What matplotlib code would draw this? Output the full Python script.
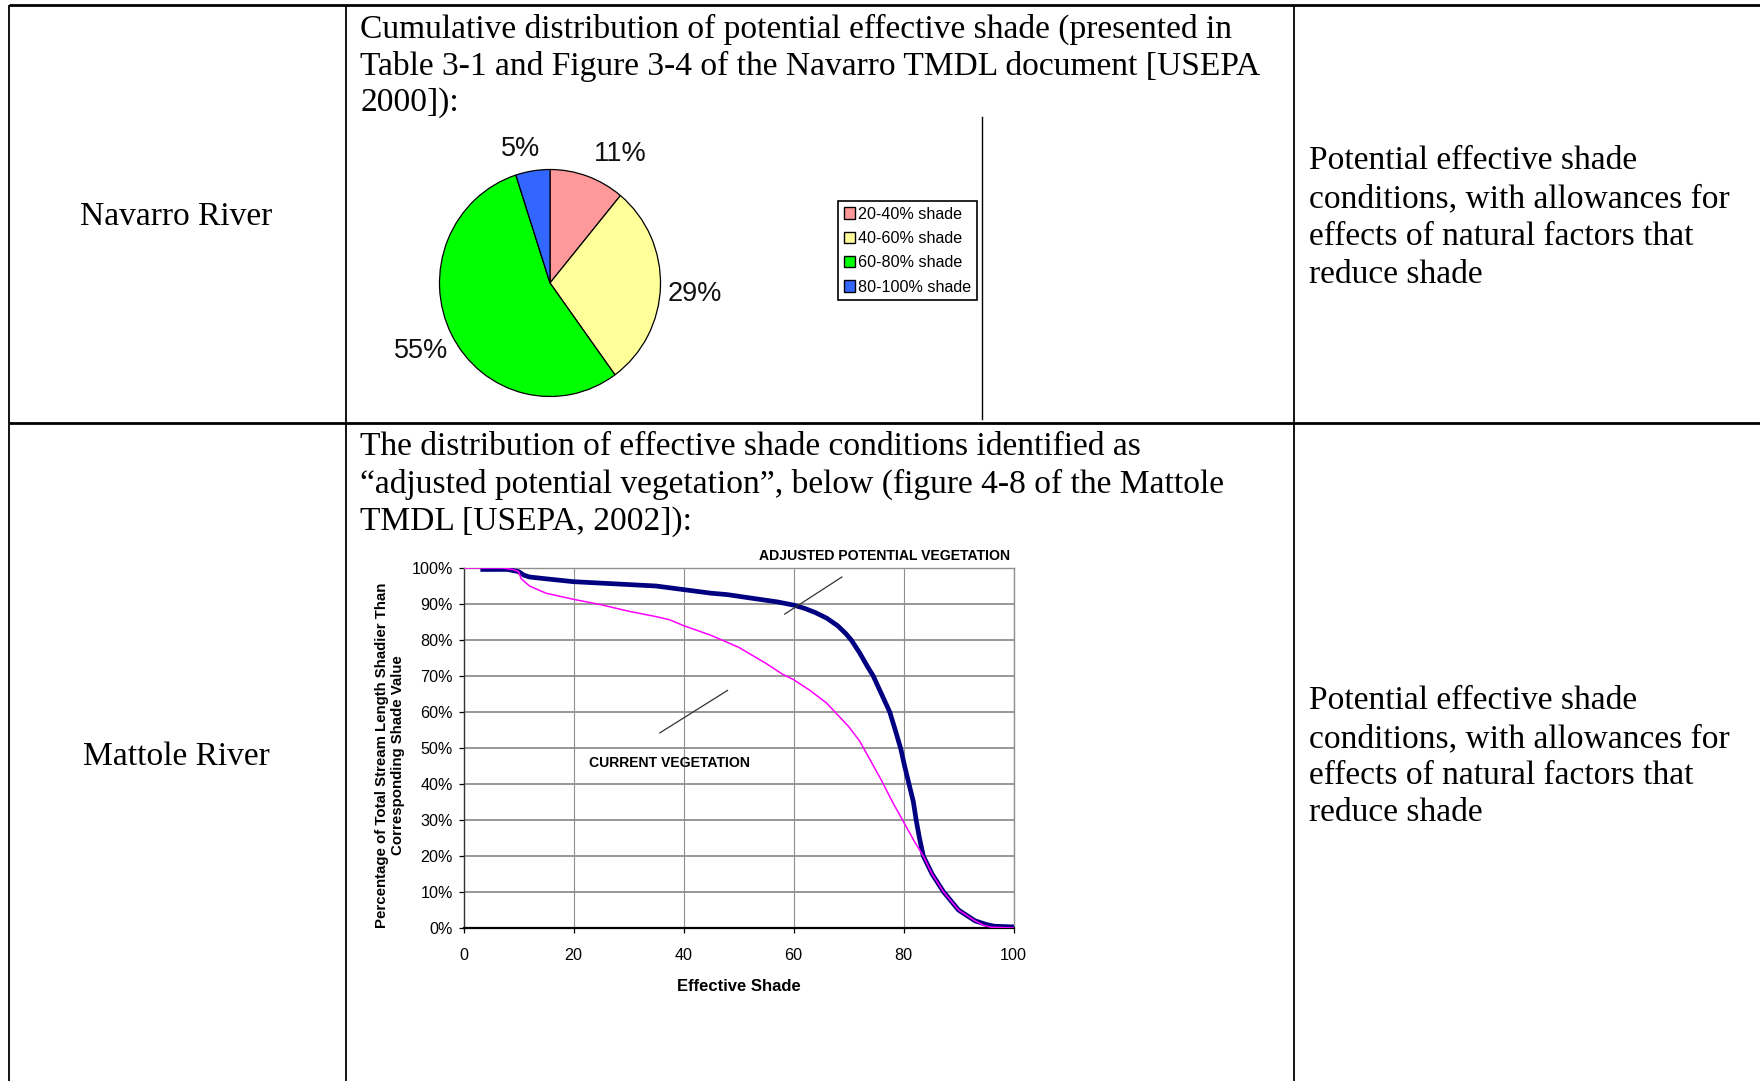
import matplotlib
matplotlib.use('Agg')
import matplotlib.pyplot as plt
from matplotlib.patches import Patch

W, H = 1760, 1081
DPI = 100

# ---------------- data ----------------
row_labels = ['Navarro River', 'Mattole River']
desc_navarro = ['Cumulative distribution of potential effective shade (presented in',
                'Table 3-1 and Figure 3-4 of the Navarro TMDL document [USEPA',
                '2000]):']
desc_mattole = ['The distribution of effective shade conditions identified as',
                '\u201cadjusted potential vegetation\u201d, below (figure 4-8 of the Mattole',
                'TMDL [USEPA, 2002]):']
right_text = ['Potential effective shade',
              'conditions, with allowances for',
              'effects of natural factors that',
              'reduce shade']

pie_labels = ['20-40% shade', '40-60% shade', '60-80% shade', '80-100% shade']
pie_values = [11, 29, 55, 5]
pie_colors = ['#FF9999', '#FFFF99', '#00FF00', '#3366FF']

adj_x = [3.5, 8, 10, 11, 12, 15, 20, 25, 30, 35, 40, 45, 48, 52, 57, 60, 62, 64, 66,
         68, 69.5, 70.5, 72, 73.5, 74.5, 76, 77.5, 78.5, 79.5, 80.2, 81, 81.8, 82.3,
         82.9, 83.6, 85.2, 87.3, 90, 93, 95, 96.5, 100]
adj_y = [99.6, 99.6, 99, 98, 97.5, 97, 96.2, 95.8, 95.4, 95, 94, 93, 92.6, 91.7, 90.6,
         89.7, 88.8, 87.6, 86.1, 84, 81.8, 80, 76.5, 72.5, 70, 65, 60, 55, 49.8, 45,
         40, 35, 30, 25, 20, 15, 10, 5, 2, 1, 0.5, 0.3]

cur_x = [0, 7, 9, 10, 10.5, 12, 15, 20, 25, 30, 35, 37.5, 40, 45, 50, 55, 58, 60, 63,
         66, 70, 72, 74, 76, 78, 80, 82, 83.6, 85.2, 87.3, 90, 93, 94.5, 96, 100]
cur_y = [100, 100, 99.6, 99, 97, 95, 93, 91.3, 89.8, 88, 86.5, 85.6, 84, 81.3, 78,
         73.5, 70.5, 69, 66, 62.5, 56, 52, 46.5, 41, 35, 29.5, 24, 20, 15, 10, 5, 2,
         0.8, 0.2, 0]

x_ticks = [0, 20, 40, 60, 80, 100]
y_ticks = [0, 10, 20, 30, 40, 50, 60, 70, 80, 90, 100]
y_ticklabels = [f'{v}%' for v in y_ticks]

# ---------------- figure ----------------
fig = plt.figure(figsize=(W / DPI, H / DPI), dpi=DPI)
fig.patch.set_facecolor('white')

ax0 = fig.add_axes([0, 0, 1, 1])
ax0.set_xlim(0, W)
ax0.set_ylim(H, 0)
ax0.axis('off')

# table lines (pixel coords)
ax0.plot([9, W], [4.5, 4.5], color='black', lw=2.0, clip_on=False, solid_capstyle='butt')
ax0.plot([9, W], [423, 423], color='black', lw=2.0, clip_on=False, solid_capstyle='butt')
for xv in [9, 346, 1294]:
    ax0.plot([xv, xv], [4.5, H], color='black', lw=1.3, clip_on=False, solid_capstyle='butt')

serif = 'Liberation Serif'
probe = ax0.text(360, 26, desc_navarro[0], fontsize=24, family=serif, va='center')
fig.canvas.draw()
rend = fig.canvas.get_renderer()
wpx = probe.get_window_extent(rend).width
fs = 24 * 891 / wpx * 0.98
probe.remove()

dy = 3.0
ax0.text(176, 214 + dy, row_labels[0], fontsize=fs, family=serif, ha='center', va='center')
ax0.text(176, 754 + dy, row_labels[1], fontsize=fs, family=serif, ha='center', va='center')
for yv, s in zip([26, 63, 100], desc_navarro):
    ax0.text(360, yv + dy, s, fontsize=fs, family=serif, ha='left', va='center')
for yv, s in zip([444, 481.5, 518.5], desc_mattole):
    ax0.text(360, yv + dy, s, fontsize=fs, family=serif, ha='left', va='center')
for yv, s in zip([158, 196, 233.5, 271.6], right_text):
    ax0.text(1309, yv + dy, s, fontsize=fs, family=serif, ha='left', va='center')
for yv, s in zip([698, 736, 773, 810], right_text):
    ax0.text(1309, yv + dy, s, fontsize=fs, family=serif, ha='left', va='center')

# vertical line next to pie legend
ax0.plot([982, 982], [117, 419], color='black', lw=1.0, clip_on=False)

# ---------------- pie ----------------
cx, cy, rx, ry = 550, 283, 110.5, 113.5
axp = fig.add_axes([(cx - rx) / W, 1 - (cy + ry) / H, 2 * rx / W, 2 * ry / H])
wedges, texts, autotexts = axp.pie(
    pie_values, colors=pie_colors, startangle=90, counterclock=False,
    wedgeprops=dict(edgecolor='black', linewidth=0.9),
    autopct=lambda p: f'{p:.0f}%', pctdistance=1.27,
    textprops=dict(fontsize=19.5, family='Liberation Sans', color='#111111'))
axp.set_aspect('auto')
axp.set_xlim(-1, 1)
axp.set_ylim(-1, 1)
# Excel-style label placement
label_pos = [(0.64, 1.14), (1.31, -0.10), (-1.17, -0.60), (-0.27, 1.18)]
for t, p in zip(autotexts, label_pos):
    t.set_position(p)
    t.set_clip_on(False)

handles = [Patch(facecolor=c, edgecolor='black', linewidth=1.0) for c in pie_colors]
leg = fig.legend(handles, pie_labels, loc='upper left',
                 bbox_to_anchor=(838 / W, 1 - 201 / H), borderaxespad=0,
                 prop=dict(family='Liberation Sans', size=11.6),
                 handlelength=0.7, handleheight=0.7, handletextpad=0.2,
                 labelspacing=0.58, borderpad=0.35, fancybox=False, framealpha=1)
leg.get_frame().set_edgecolor('black')
leg.get_frame().set_linewidth(1.2)

# ---------------- line chart ----------------
L, R, T, B = 463.5, 1013.5, 568, 928
ax = fig.add_axes([L / W, 1 - B / H, (R - L) / W, (B - T) / H])
ax.set_xlim(0, 100)
ax.set_ylim(0, 100)
for yv in y_ticks[1:]:
    ax.axhline(yv, color='#8f8f8f', lw=1.3, zorder=1)
for xv in x_ticks[1:]:
    ax.axvline(xv, color='#8f8f8f', lw=0.8, zorder=1)

ax.plot(adj_x, adj_y, color='#000080', lw=3.4, zorder=3)
ax.plot(cur_x, cur_y, color='#FF00FF', lw=1.1, zorder=4)

for side in ['top', 'right']:
    ax.spines[side].set_color('#8f8f8f')
    ax.spines[side].set_linewidth(1.0)
ax.spines['left'].set_color('#333333')
ax.spines['left'].set_linewidth(1.0)
ax.spines['bottom'].set_color('black')
ax.spines['bottom'].set_linewidth(1.6)

ax.set_xticks(x_ticks)
ax.set_yticks(y_ticks)
ax.set_yticklabels(y_ticklabels)
ax.tick_params(axis='both', direction='out', length=3.6, width=0.9, colors='black',
               labelsize=11.6)
ax.tick_params(axis='y', pad=4)
ax.tick_params(axis='x', pad=11)
for lab in ax.get_xticklabels() + ax.get_yticklabels():
    lab.set_family('Liberation Sans')

ax.set_xlabel('Effective Shade', fontsize=12, fontweight='bold', family='Liberation Sans')
ax.xaxis.set_label_coords(0.5, -(986.6 - B) / (B - T))
ax.xaxis.label.set_va('center')
ax.set_ylabel('Percentage of Total Stream Length Shadier Than\nCorresponding Shade Value',
              fontsize=10.8, fontweight='bold', family='Liberation Sans', linespacing=1.25)
ax.yaxis.set_label_coords(-(L - 390) / (R - L), (B - 755) / (B - T))
ax.yaxis.label.set_va('center')
ax.yaxis.label.set_ha('center')

ax.text(99.4, 103.3, 'ADJUSTED POTENTIAL VEGETATION', fontsize=10.1, fontweight='bold',
        family='Liberation Sans', ha='right', va='center', clip_on=False)
ax.text(37.5, 45.8, 'CURRENT VEGETATION', fontsize=10.1, fontweight='bold',
        family='Liberation Sans', ha='center', va='center', clip_on=False)
ax.plot([58.4, 68.8], [87.2, 97.5], color='#333333', lw=0.9, zorder=5)
ax.plot([35.7, 48.0], [54.2, 66.0], color='#333333', lw=0.9, zorder=5)

fig.savefig('out.png', dpi=DPI, facecolor='white')
